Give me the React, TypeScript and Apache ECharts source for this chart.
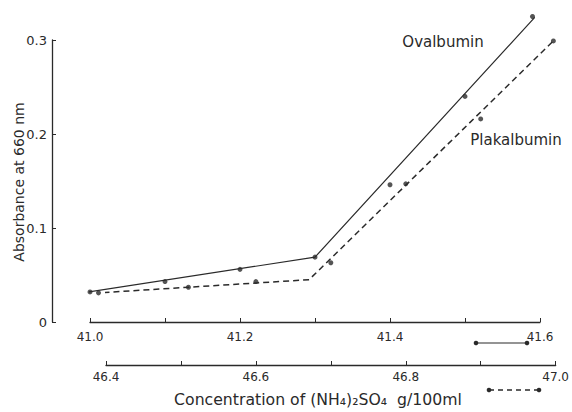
import React, { useEffect, useRef } from "react";
import * as echarts from "echarts";

// Ovalbumin (upper concentration axis, g/100ml)
const ovalbuminPoints: [number, number][] = [
  [41.0, 0.032], [41.1, 0.043], [41.2, 0.056], [41.3, 0.069],
  [41.4, 0.146], [41.5, 0.240], [41.59, 0.325],
];
const ovalbuminFit: [number, number][] = [
  [40.99, 0.031], [41.3, 0.069], [41.593, 0.324],
];
// Plakalbumin (lower concentration axis, g/100ml)
const plakalbuminPoints: [number, number][] = [
  [46.39, 0.031], [46.51, 0.037], [46.6, 0.043], [46.7, 0.063],
  [46.8, 0.147], [46.9, 0.216], [46.997, 0.299],
];
const plakalbuminFit: [number, number][] = [
  [46.37, 0.030], [46.671, 0.045], [46.997, 0.299],
];
const topAxisRange = [41.0, 41.6];
const bottomAxisRange = [46.4, 47.0];
const yRange = [0, 0.3];

const INK = "#2a2a2a";
const FONT = "DejaVu Sans";

export default function App() {
  const ref = useRef<HTMLDivElement>(null);
  useEffect(() => {
    if (!ref.current) return;
    const chart = echarts.init(ref.current, null, { renderer: "svg" });
    const evenLabel = (v: number) =>
      Math.round(v * 10) % 2 === 0 ? v.toFixed(1) : "";
    const labelStyle = { color: INK, fontFamily: FONT, fontSize: 12 };
    chart.setOption({
      animation: false,
      backgroundColor: "#fff",
      grid: [
        { left: 90, right: 32, top: 40, bottom: 90 },
        { left: 106, right: 15, top: 40, bottom: 90 },
      ],
      xAxis: [
        {
          type: "value", gridIndex: 0, min: topAxisRange[0], max: topAxisRange[1], interval: 0.1,
          position: "bottom",
          axisLine: { onZero: false, lineStyle: { color: INK, width: 1.3 } },
          axisTick: { inside: true, length: 4, lineStyle: { color: INK } },
          axisLabel: { ...labelStyle, margin: 9, formatter: evenLabel, showMinLabel: true, showMaxLabel: true },
          splitLine: { show: false },
        },
        {
          type: "value", gridIndex: 1, min: bottomAxisRange[0], max: bottomAxisRange[1], interval: 0.1,
          position: "bottom", offset: 43,
          axisLine: { onZero: false, lineStyle: { color: INK, width: 1.3 } },
          axisTick: { inside: true, length: 4, lineStyle: { color: INK } },
          axisLabel: { ...labelStyle, margin: 6, formatter: evenLabel, showMinLabel: true, showMaxLabel: true },
          splitLine: { show: false },
        },
      ],
      yAxis: [
        {
          type: "value", gridIndex: 0, min: yRange[0], max: yRange[1], interval: 0.1,
          position: "left", offset: 38,
          axisLine: { show: true, onZero: false, lineStyle: { color: INK, width: 1.3 } },
          axisTick: { show: true, inside: true, length: 4, lineStyle: { color: INK } },
          axisLabel: { ...labelStyle, fontSize: 13, margin: 5, formatter: (v: number) => (v === 0 ? "0" : v.toFixed(1)) },
          splitLine: { show: false },
        },
        {
          type: "value", gridIndex: 1, min: yRange[0], max: yRange[1], interval: 0.1,
          show: false,
        },
      ],
      series: [
        {
          name: "Ovalbumin", type: "line", xAxisIndex: 0, yAxisIndex: 0,
          data: ovalbuminFit, showSymbol: false, clip: false, silent: true,
          lineStyle: { color: INK, width: 1.2, type: "solid" },
        },
        {
          name: "Ovalbumin points", type: "scatter", xAxisIndex: 0, yAxisIndex: 0,
          data: ovalbuminPoints, symbolSize: 5, clip: false,
          itemStyle: { color: INK },
        },
        {
          name: "Plakalbumin", type: "line", xAxisIndex: 1, yAxisIndex: 1,
          data: plakalbuminFit, showSymbol: false, clip: false, silent: true,
          lineStyle: { color: INK, width: 1.5, type: [6, 4] },
        },
        {
          name: "Plakalbumin points", type: "scatter", xAxisIndex: 1, yAxisIndex: 1,
          data: plakalbuminPoints, symbolSize: 5, clip: false,
          itemStyle: { color: INK },
        },
      ],
      graphic: [
        { type: "text", x: 443, y: 42, style: { text: "Ovalbumin", fill: INK, font: `15px "${FONT}"`, align: "center", verticalAlign: "middle" } },
        { type: "text", x: 516, y: 140, style: { text: "Plakalbumin", fill: INK, font: `15px "${FONT}"`, align: "center", verticalAlign: "middle" } },
        { type: "text", x: 19, y: 182, rotation: Math.PI / 2, style: { text: "Absorbance at 660 nm", fill: INK, font: `14px "${FONT}"`, align: "center", verticalAlign: "middle" } },
        { type: "text", x: 318, y: 399, style: { text: "Concentration of (NH₄)₂SO₄  g/100ml", fill: INK, font: `15.7px "${FONT}"`, align: "center", verticalAlign: "middle" } },
        { type: "line", shape: { x1: 476, y1: 343, x2: 527, y2: 343 }, style: { stroke: INK, lineWidth: 1.2 } },
        { type: "circle", shape: { cx: 476, cy: 343, r: 2.3 }, style: { fill: INK } },
        { type: "circle", shape: { cx: 527, cy: 343, r: 2.3 }, style: { fill: INK } },
        { type: "line", shape: { x1: 489, y1: 390, x2: 539, y2: 390 }, style: { stroke: INK, lineWidth: 1.4, lineDash: [5, 4] } },
        { type: "circle", shape: { cx: 489, cy: 390, r: 2.3 }, style: { fill: INK } },
        { type: "circle", shape: { cx: 539, cy: 390, r: 2.3 }, style: { fill: INK } },
      ],
    });
    return () => chart.dispose();
  }, []);
  return (
    <div
      ref={ref}
      style={{ position: "absolute", left: 0, top: 0, width: 572, height: 412 }}
    />
  );
}
